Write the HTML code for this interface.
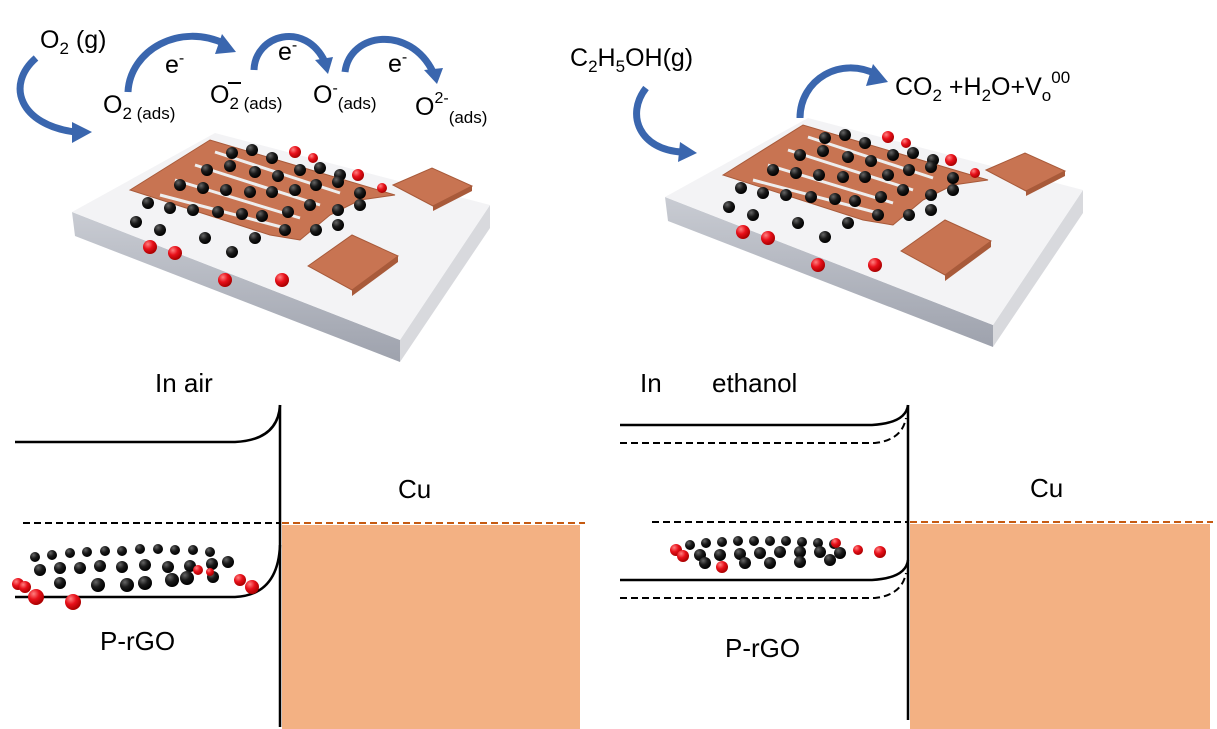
<!DOCTYPE html>
<html><head><meta charset="utf-8"><style>
html,body{margin:0;padding:0;background:#fff;}
svg{display:block;}
text{font-family:"Liberation Sans",sans-serif;fill:#000;}
</style></head><body>
<svg width="1217" height="729" viewBox="0 0 1217 729" xmlns="http://www.w3.org/2000/svg">
<defs>
<linearGradient id="side" x1="0" y1="0" x2="0" y2="1"><stop offset="0" stop-color="#c9ccd3"/><stop offset="1" stop-color="#9ea2ad"/></linearGradient>
<radialGradient id="bk" cx="0.35" cy="0.3" r="0.7"><stop offset="0" stop-color="#666"/><stop offset="0.5" stop-color="#1a1a1a"/><stop offset="1" stop-color="#000"/></radialGradient>
<radialGradient id="rd" cx="0.35" cy="0.3" r="0.7"><stop offset="0" stop-color="#ff8080"/><stop offset="0.5" stop-color="#e8101a"/><stop offset="1" stop-color="#a00"/></radialGradient>
<g id="dev">
  <polygon points="72,212 400,340 400,362 75,236" fill="url(#side)"/>
  <polygon points="400,340 490,205 490,228 400,362" fill="#d8d9dd"/>
  <polygon points="72,212 215,133 490,205 400,340" fill="#f3f3f5"/>
  <!-- electrodes -->
  <g fill="#a85a3a">
    <polygon points="433,206 472,186 472,191 433,211"/>
    <polygon points="352,290 398,256 398,262 352,296"/>
  </g>
  <g fill="#c87452" stroke="#a85a3a" stroke-width="1">
    <polygon points="393,185 432,168 472,186 433,206"/>
    <polygon points="308,266 352,235 398,256 352,290"/>
    <polygon points="130,190 210,140 395,195 360,200 330,215 300,240 270,235"/>
  </g>
  <g stroke="#eee" stroke-width="3">
    <line x1="175" y1="180" x2="300" y2="218"/><line x1="195" y1="165" x2="320" y2="205"/>
    <line x1="215" y1="152" x2="340" y2="193"/><line x1="160" y1="195" x2="285" y2="228"/>
  </g>
  <g fill="url(#bk)">
    <circle cx="232" cy="153" r="6"/><circle cx="252" cy="150" r="6"/><circle cx="272" cy="158" r="6"/>
    <circle cx="207" cy="170" r="6"/><circle cx="230" cy="166" r="6"/><circle cx="255" cy="172" r="6"/><circle cx="278" cy="176" r="6"/><circle cx="300" cy="170" r="6"/><circle cx="320" cy="168" r="6"/><circle cx="340" cy="175" r="6"/>
    <circle cx="180" cy="185" r="6"/><circle cx="203" cy="188" r="6"/><circle cx="226" cy="190" r="6"/><circle cx="250" cy="192" r="6"/><circle cx="272" cy="192" r="6"/><circle cx="295" cy="190" r="6"/><circle cx="316" cy="185" r="6"/><circle cx="338" cy="182" r="6"/><circle cx="360" cy="193" r="6"/>
    <circle cx="148" cy="203" r="6"/><circle cx="170" cy="208" r="6"/><circle cx="193" cy="210" r="6"/><circle cx="218" cy="212" r="6"/><circle cx="242" cy="214" r="6"/><circle cx="262" cy="216" r="6"/><circle cx="288" cy="212" r="6"/><circle cx="310" cy="205" r="6"/><circle cx="338" cy="210" r="6"/><circle cx="360" cy="205" r="6"/>
    <circle cx="136" cy="222" r="6"/><circle cx="160" cy="230" r="6"/><circle cx="205" cy="238" r="6"/><circle cx="232" cy="252" r="6"/><circle cx="255" cy="238" r="6"/><circle cx="285" cy="230" r="6"/><circle cx="316" cy="230" r="6"/><circle cx="338" cy="225" r="6"/>
  </g>
  <g fill="url(#rd)">
    <circle cx="295" cy="152" r="6"/><circle cx="313" cy="158" r="5"/><circle cx="358" cy="175" r="6"/><circle cx="382" cy="188" r="5"/>
    <circle cx="150" cy="247" r="7"/><circle cx="175" cy="253" r="7"/><circle cx="225" cy="280" r="7"/><circle cx="282" cy="280" r="7"/>
  </g>
</g>
</defs>

<use href="#dev"/>
<use href="#dev" transform="translate(593,-15)"/>

<!-- blue arrows -->
<g fill="none" stroke="#3a66ae" stroke-width="7">
  <path d="M36,58 C5,85 20,125 75,132"/>
  <path d="M128,92 C130,50 180,22 225,44"/>
  <path d="M254,70 C255,35 305,20 325,62"/>
  <path d="M345,72 C350,32 410,25 433,72"/>
  <path d="M646,88 C625,115 640,150 682,152"/>
  <path d="M800,118 C800,80 840,55 878,75"/>
</g>
<g fill="#3a66ae">
  <polygon points="72,122 92,132 72,143"/>
  <polygon points="222,34 236,52 215,54"/>
  <polygon points="315,60 333,57 328,74"/>
  <polygon points="424,70 443,68 437,84"/>
  <polygon points="680,142 697,153 678,162"/>
  <polygon points="873,64 888,82 866,86"/>
</g>

<!-- top labels -->
<g font-size="25">
  <text x="40" y="48">O<tspan font-size="17" dy="6">2</tspan><tspan dy="-6"> (g)</tspan></text>
  <text x="165" y="73">e<tspan font-size="16" dy="-10">-</tspan></text>
  <text x="103" y="113">O<tspan font-size="17" dy="6">2 (ads)</tspan></text>
  <text x="210" y="103">O<tspan font-size="17" dy="6">2 (ads)</tspan></text>
  <line x1="228" y1="83" x2="241" y2="83" stroke="#000" stroke-width="2"/>
  <text x="278" y="60">e<tspan font-size="16" dy="-10">-</tspan></text>
  <text x="313" y="103">O<tspan font-size="16" dy="-10">-</tspan><tspan font-size="17" dy="16">(ads)</tspan></text>
  <text x="388" y="72">e<tspan font-size="16" dy="-10">-</tspan></text>
  <text x="415" y="115">O<tspan font-size="16" dy="-12">2-</tspan><tspan font-size="17" dy="20">(ads)</tspan></text>
  <text x="570" y="66">C<tspan font-size="17" dy="6">2</tspan><tspan dy="-6">H</tspan><tspan font-size="17" dy="6">5</tspan><tspan dy="-6">OH(g)</tspan></text>
  <text x="895" y="95">CO<tspan font-size="17" dy="6">2</tspan><tspan dy="-6"> +H</tspan><tspan font-size="17" dy="6">2</tspan><tspan dy="-6">O+V</tspan><tspan font-size="17" dy="6">o</tspan><tspan font-size="17" dy="-18">00</tspan></text>
</g>

<!-- band diagrams left -->
<rect x="282" y="525" width="298" height="204" fill="#f3b183"/>
<g fill="none" stroke="#000" stroke-width="2.5">
  <line x1="280" y1="405" x2="280" y2="727"/>
  <path d="M15,442 L235,442 Q278,440 280,405"/>
  <path d="M15,597 L235,597 Q278,595 280,545"/>
</g>
<line x1="23" y1="523" x2="280" y2="523" stroke="#000" stroke-width="2" stroke-dasharray="7,4"/>
<line x1="282" y1="523" x2="585" y2="523" stroke="#c55a11" stroke-width="2" stroke-dasharray="7,4"/>
<g fill="url(#bk)">
  <circle cx="35" cy="557" r="5"/><circle cx="52" cy="555" r="5"/><circle cx="70" cy="553" r="5"/><circle cx="87" cy="552" r="5"/><circle cx="105" cy="551" r="5"/><circle cx="122" cy="551" r="5"/><circle cx="140" cy="549" r="5"/><circle cx="158" cy="549" r="5"/><circle cx="175" cy="550" r="5"/><circle cx="193" cy="550" r="5"/><circle cx="210" cy="552" r="5"/>
  <circle cx="40" cy="570" r="6"/><circle cx="60" cy="568" r="6"/><circle cx="80" cy="568" r="6"/><circle cx="100" cy="566" r="6"/><circle cx="122" cy="567" r="6"/><circle cx="145" cy="565" r="6"/><circle cx="168" cy="567" r="6"/><circle cx="190" cy="566" r="6"/><circle cx="212" cy="564" r="6"/><circle cx="228" cy="562" r="6"/>
  <circle cx="60" cy="583" r="6"/><circle cx="98" cy="585" r="7"/><circle cx="127" cy="585" r="7"/><circle cx="145" cy="583" r="7"/><circle cx="172" cy="580" r="7"/><circle cx="187" cy="578" r="7"/><circle cx="213" cy="577" r="6"/>
</g>
<g fill="url(#rd)">
  <circle cx="18" cy="584" r="6"/><circle cx="25" cy="587" r="6"/><circle cx="36" cy="597" r="8"/><circle cx="73" cy="602" r="8"/><circle cx="198" cy="570" r="5"/><circle cx="210" cy="572" r="4"/><circle cx="240" cy="580" r="6"/><circle cx="252" cy="587" r="7"/>
</g>
<text x="155" y="392" font-size="26">In air</text>
<text x="398" y="498" font-size="26">Cu</text>
<text x="100" y="650" font-size="26">P-rGO</text>

<!-- band diagrams right -->
<rect x="910" y="524" width="300" height="205" fill="#f3b183"/>
<g fill="none" stroke="#000" stroke-width="2.5">
  <line x1="908" y1="405" x2="908" y2="720"/>
  <path d="M620,425 L872,425 Q906,423 908,405"/>
  <path d="M620,580 L872,580 Q906,578 908,560"/>
</g>
<g fill="none" stroke="#000" stroke-width="2" stroke-dasharray="7,4">
  <path d="M620,443 L875,443 Q902,440 906,418"/>
  <path d="M620,598 L875,598 Q902,595 906,573"/>
</g>
<line x1="652" y1="522" x2="908" y2="522" stroke="#000" stroke-width="2" stroke-dasharray="7,4"/>
<line x1="910" y1="522" x2="1213" y2="522" stroke="#c55a11" stroke-width="2" stroke-dasharray="7,4"/>
<g fill="url(#bk)">
  <circle cx="690" cy="545" r="5"/><circle cx="706" cy="543" r="5"/><circle cx="722" cy="542" r="5"/><circle cx="738" cy="541" r="5"/><circle cx="754" cy="541" r="5"/><circle cx="770" cy="541" r="5"/><circle cx="786" cy="541" r="5"/><circle cx="802" cy="542" r="5"/><circle cx="818" cy="543" r="5"/><circle cx="834" cy="544" r="5"/>
  <circle cx="700" cy="555" r="6"/><circle cx="720" cy="555" r="6"/><circle cx="740" cy="554" r="6"/><circle cx="760" cy="553" r="6"/><circle cx="780" cy="552" r="6"/><circle cx="800" cy="552" r="6"/><circle cx="820" cy="552" r="6"/><circle cx="840" cy="553" r="6"/>
  <circle cx="705" cy="563" r="6"/><circle cx="745" cy="563" r="6"/><circle cx="770" cy="563" r="6"/><circle cx="800" cy="562" r="6"/><circle cx="830" cy="560" r="6"/>
</g>
<g fill="url(#rd)">
  <circle cx="676" cy="550" r="6"/><circle cx="683" cy="556" r="6"/><circle cx="722" cy="567" r="6"/><circle cx="836" cy="543" r="5"/><circle cx="858" cy="550" r="5"/><circle cx="880" cy="552" r="6"/>
</g>
<text x="640" y="392" font-size="26">In</text>
<text x="712" y="392" font-size="26">ethanol</text>
<text x="1030" y="497" font-size="26">Cu</text>
<text x="725" y="657" font-size="26">P-rGO</text>
</svg>
</body></html>
